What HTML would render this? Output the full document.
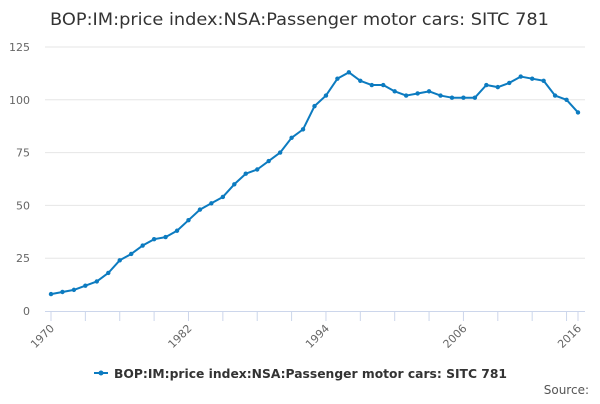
<!DOCTYPE html>
<html><head><meta charset="utf-8"><style>
body{margin:0;background:#fff;font-family:"DejaVu Sans",sans-serif}
svg text{font-family:"DejaVu Sans",sans-serif}
</style></head><body>
<svg id="c" width="600" height="400" xmlns="http://www.w3.org/2000/svg">
<rect width="600" height="400" fill="#fff"/>
<text x="50" y="25" font-size="17" fill="#333" textLength="499" lengthAdjust="spacingAndGlyphs">BOP:IM:price index:NSA:Passenger motor cars: SITC 781</text>
<g id="grid"></g><g id="xaxis"></g><g id="yaxis"></g><g id="series"></g>
<g>
<line x1="94" y1="373" x2="108" y2="373" stroke="#0c7bc0" stroke-width="2"/>
<circle cx="101" cy="373" r="2.5" fill="#0c7bc0"/>
<text x="114" y="378" font-size="12" font-weight="bold" fill="#333" textLength="393" lengthAdjust="spacingAndGlyphs">BOP:IM:price index:NSA:Passenger motor cars: SITC 781</text>
</g>
<text x="589" y="394" font-size="12" fill="#555" text-anchor="end">Source:</text>
</svg>
<script>
const startYear = 1970;
const values = [8,9,10,12,14,18,24,27,31,34,35,38,43,48,51,54,60,65,67,71,75,82,86,97,102,110,113,109,107,107,104,102,103,104,102,101,101,101,107,106,108,111,110,109,102,100,94];
const yTicks = [0,25,50,75,100,125];
const xLabels = [1970,1982,1994,2006,2016];
const NS="http://www.w3.org/2000/svg";
const X0=51,X1=578,Y0=311,Y1=47;
const endYear=startYear+values.length-1;
const xs=y=>X0+(y-startYear)*(X1-X0)/(endYear-startYear);
const ys=v=>Y0-v*(Y0-Y1)/125;
function mk(tag,at,parent){const e=document.createElementNS(NS,tag);for(const k in at)e.setAttribute(k,at[k]);document.getElementById(parent).appendChild(e);return e;}
yTicks.forEach(t=>{
  if(t>0){const l=mk('line',{x1:45,x2:585,y1:ys(t),y2:ys(t),stroke:'#e6e6e6'},'grid');
  
  }
  const tx=mk('text',{x:30,y:ys(t)+4,'font-size':11,fill:'#666','text-anchor':'end'},'yaxis');tx.textContent=t;
  
  
});
const ax=mk('line',{x1:45,x2:585,y1:Y0+0.5,y2:Y0+0.5,stroke:'#ccd6eb'},'xaxis');


for(let y=startYear;y<=endYear;y+=3){const t=mk('line',{x1:xs(y),x2:xs(y),y1:Y0,y2:Y0+10,stroke:'#ccd6eb'},'xaxis');

}
mk('line',{x1:xs(endYear),x2:xs(endYear),y1:Y0,y2:Y0+10,stroke:'#ccd6eb'},'xaxis');
xLabels.forEach(y=>{const x=xs(y)+4,yy=Y0+18;
  const t=mk('text',{x:x,y:yy,'font-size':11,fill:'#666','text-anchor':'end',transform:`rotate(-45 ${x} ${yy})`},'xaxis');t.textContent=y;
  
  });
const pts=values.map((v,i)=>xs(startYear+i)+','+ys(v)).join(' ');
const pl=mk('polyline',{points:pts,fill:'none',stroke:'#0c7bc0','stroke-width':2,'stroke-linejoin':'round'},'series');


values.forEach((v,i)=>{const c=mk('circle',{cx:xs(startYear+i),cy:ys(v),r:2.2,fill:'#0c7bc0'},'series');

});
</script>
</body></html>
